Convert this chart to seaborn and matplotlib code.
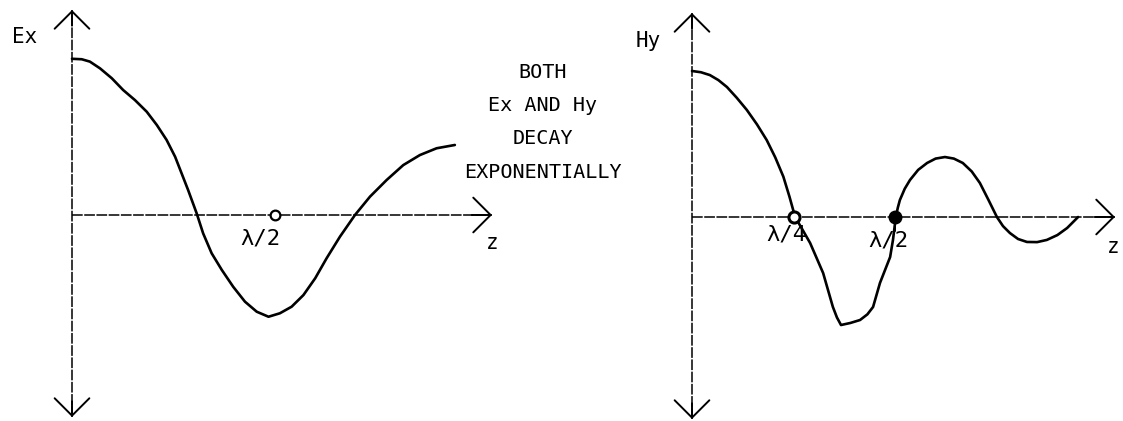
import numpy as np
import matplotlib
matplotlib.use("Agg")
import matplotlib.pyplot as plt
import seaborn as sns

# curves: z in wavelengths, field in units of Ex(0)
ex_z = [0.000, 0.024, 0.044, 0.069, 0.098, 0.126, 0.155, 0.184, 0.209, 0.233,
        0.254, 0.270, 0.286, 0.307, 0.323, 0.344, 0.369, 0.397, 0.426, 0.455,
        0.484, 0.512, 0.541, 0.570, 0.599, 0.627, 0.660, 0.697, 0.734, 0.775,
        0.816, 0.857, 0.898, 0.943]
ex_val = [0.995, 0.992, 0.977, 0.934, 0.871, 0.796, 0.732, 0.658, 0.573, 0.478,
          0.371, 0.265, 0.159, 0.011, -0.117, -0.244, -0.350, -0.457, -0.552, -0.616,
          -0.648, -0.626, -0.584, -0.510, -0.403, -0.276, -0.138, 0.000, 0.117, 0.223,
          0.318, 0.382, 0.425, 0.446]

hy_z = [0.000, 0.022, 0.044, 0.065, 0.086, 0.110, 0.135, 0.160, 0.184, 0.205,
        0.225, 0.240, 0.254, 0.272, 0.291, 0.323, 0.347, 0.357, 0.367, 0.390,
        0.414, 0.432, 0.446, 0.463, 0.488, 0.495, 0.502, 0.507, 0.512, 0.524,
        0.537, 0.557, 0.579, 0.600, 0.623, 0.645, 0.667, 0.689, 0.709, 0.730,
        0.751, 0.766, 0.783, 0.803, 0.825, 0.850, 0.874, 0.900, 0.924, 0.951]
hy_val = [0.930, 0.922, 0.904, 0.872, 0.828, 0.760, 0.682, 0.590, 0.490, 0.380,
          0.257, 0.130, 0.000, -0.080, -0.166, -0.357, -0.573, -0.640, -0.688, -0.675,
          -0.656, -0.620, -0.573, -0.420, -0.255, -0.146, 0.000, 0.060, 0.108, 0.180,
          0.236, 0.300, 0.344, 0.372, 0.382, 0.372, 0.344, 0.290, 0.217, 0.110,
          0.000, -0.058, -0.102, -0.140, -0.159, -0.160, -0.146, -0.115, -0.070, 0.000]

ex_marks = [0.5]          # open circle at lambda/2
hy_open = [0.25]          # lambda/4
hy_filled = [0.5]         # lambda/2
note_lines = ["BOTH", "Ex AND Hy", "DECAY", "EXPONENTIALLY"]

sns.set_style("white")
plt.rcParams["font.family"] = ["DejaVu Sans Mono", "DejaVu Sans"]

W, H = 1123, 421
SX, SY = 406.0, 157.0   # pixels per wavelength / per unit field

fig = plt.figure(figsize=(W / 100, H / 100), dpi=100)
fig.patch.set_facecolor("white")


def make_axes(left, right, x0, y0):
    ax = fig.add_axes([left / W, 0, (right - left) / W, 1])
    ax.set_xlim((left - x0) / SX, (right - x0) / SX)
    ax.set_ylim((y0 - H) / SY, y0 / SY)
    ax.axis("off")
    return ax


def arrow_axis(ax, x0, y0, top, bottom, right):
    # pixel ends -> data
    t = (y0 - top) / SY
    b = (y0 - bottom) / SY
    r = (right - x0) / SX
    ax.plot([0, 0], [b, t], color="black", lw=1.1, dashes=(7, 1))
    ax.plot([0, r], [0, 0], color="black", lw=1.1, dashes=(7, 1))
    hs = dict(arrowstyle="->,head_length=1.25,head_width=1.25", color="black",
              lw=1.4, shrinkA=0, shrinkB=0)
    ax.annotate("", xy=(0, t), xytext=(0, t - 0.1), arrowprops=hs)
    ax.annotate("", xy=(0, b), xytext=(0, b + 0.1), arrowprops=hs)
    ax.annotate("", xy=(r, 0), xytext=(r - 0.05, 0), arrowprops=hs)


def ftext(x, y, s, size=14):
    fig.text(x / W, 1 - y / H, s, ha="center", va="center", fontsize=size, color="black")


# left panel
ax1 = make_axes(0, 560, 72, 215)
arrow_axis(ax1, 72, 215, 10, 417, 492)
sns.lineplot(x=ex_z, y=ex_val, ax=ax1, color="black", lw=1.9, estimator=None, sort=False)
ax1.plot(ex_marks, [0] * len(ex_marks), "o", ms=7, mfc="white", mec="black", mew=1.6)

# right panel
ax2 = make_axes(560, 1123, 692, 217)
arrow_axis(ax2, 692, 217, 13, 419, 1115)
sns.lineplot(x=hy_z, y=hy_val, ax=ax2, color="black", lw=1.9, estimator=None, sort=False)
ax2.plot(hy_open, [0] * len(hy_open), "o", ms=8, mfc="white", mec="black", mew=2.2)
ax2.plot(hy_filled, [0] * len(hy_filled), "o", ms=9, color="black")
ax2.plot([0.5, 0.5], [0, -0.09], color="black", lw=1.4)

# labels
ftext(25, 37, "Ex", 15)
ftext(492, 243, "z", 15)
ftext(260, 238, "λ/2", 16)
ftext(648, 41, "Hy", 15)
ftext(786, 235, "λ/4", 16)
ftext(888, 240, "λ/2", 16)
ftext(1113, 247, "z", 15)
for i, line in enumerate(note_lines):
    ftext(543, 72 + i * 33.5, line, 14.5)

fig.savefig("out.png", dpi=100, facecolor="white")
